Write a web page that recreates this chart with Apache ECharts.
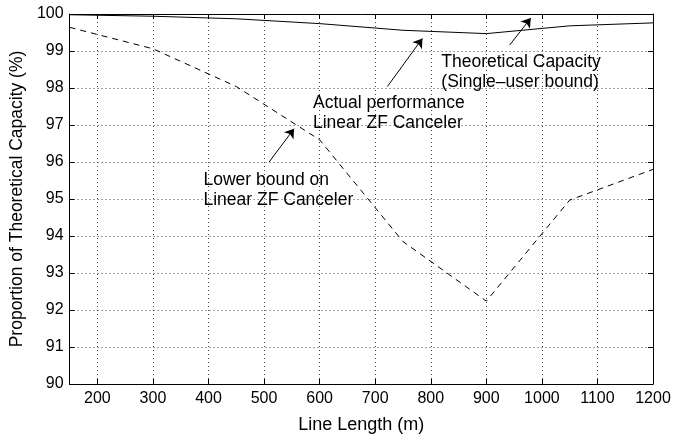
<!DOCTYPE html>
<html>
<head>
<meta charset="utf-8">
<script src="https://cdn.jsdelivr.net/npm/echarts@6/dist/echarts.min.js"></script>
<style>html,body{margin:0;padding:0;background:#fff}#c{width:686px;height:439px}</style>
</head>
<body>
<div id="c"></div>
<script>
const lineLength = [150, 300, 450, 600, 750, 900, 1050, 1200];
const theoretical = [99.98, 99.94, 99.87, 99.74, 99.56, 99.47, 99.68, 99.76];
const lowerBound = [99.64, 99.06, 98.04, 96.6, 93.85, 92.24, 94.97, 95.8];
const xTicks = [200, 300, 400, 500, 600, 700, 800, 900, 1000, 1100, 1200];
const yTicks = [90, 91, 92, 93, 94, 95, 96, 97, 98, 99, 100];

const annotations = [
  {lines: ['Theoretical Capacity', '(Single\u2013user bound)'], at: [819, 98.69]},
  {lines: ['Actual performance', 'Linear ZF Canceler'], at: [588, 97.59]},
  {lines: ['Lower bound on', 'Linear ZF Canceler'], at: [391, 95.51]}
];
const arrows = [
  [[942, 99.16], [980, 99.89]],
  [[722, 98.04], [785, 99.34]],
  [[509, 96.0], [554, 96.9]]
];

const FONT = 'Liberation Sans';
const chart = echarts.init(document.getElementById('c'), null, {renderer: 'canvas'});
const grid = {left: 68, right: 33, top: 14, bottom: 53};
const dotted = {show: true, lineStyle: {color: '#444', type: [1, 3], width: 1}};

function xAx(pos, show) {
  return {
    type: 'value', position: pos, min: 150, max: 1200,
    axisLine: {show: true, onZero: false, lineStyle: {color: '#000', width: 1}},
    axisTick: {show: true, inside: true, length: 5, customValues: xTicks, lineStyle: {color: '#000'}},
    axisLabel: {show: show, customValues: xTicks, formatter: v => String(v), color: '#000', fontFamily: FONT, fontSize: 16, margin: 7},
    splitLine: show ? dotted : {show: false},
    name: show ? 'Line Length (m)' : '', nameLocation: 'middle', nameGap: 32,
    nameTextStyle: {color: '#000', fontFamily: FONT, fontSize: 18}
  };
}
function yAx(pos, show) {
  return {
    type: 'value', position: pos, min: 90, max: 100, interval: 1,
    axisLine: {show: true, onZero: false, lineStyle: {color: '#000', width: 1}},
    axisTick: {show: true, inside: true, length: 5, lineStyle: {color: '#000'}},
    axisLabel: {show: show, color: '#000', fontFamily: FONT, fontSize: 16, margin: 6},
    splitLine: show ? dotted : {show: false},
    name: show ? 'Proportion of Theoretical Capacity (%)' : '', nameLocation: 'middle', nameGap: 40,
    nameTextStyle: {color: '#000', fontFamily: FONT, fontSize: 17.5}
  };
}

chart.setOption({
  animation: false,
  backgroundColor: '#fff',
  grid: grid,
  xAxis: [xAx('bottom', true), xAx('top', false)],
  yAxis: [yAx('left', true), yAx('right', false)],
  series: [
    {
      type: 'line', data: lineLength.map((x, i) => [x, theoretical[i]]),
      symbol: 'none', lineStyle: {color: '#000', width: 1},
      markLine: {
        silent: true, symbol: ['none', 'arrow'], symbolSize: 9,
        label: {show: false},
        lineStyle: {color: '#000', width: 1, type: 'solid'},
        itemStyle: {color: '#000'},
        data: arrows.map(a => [{coord: a[0]}, {coord: a[1]}])
      }
    },
    {
      type: 'line', data: lineLength.map((x, i) => [x, lowerBound[i]]),
      symbol: 'none', lineStyle: {color: '#000', width: 1, type: [6, 5]}
    }
  ]
});

const g = [];
annotations.forEach(a => {
  const p = chart.convertToPixel({xAxisIndex: 0, yAxisIndex: 0}, a.at);
  g.push({
    type: 'text', left: p[0], top: p[1] - 10,
    style: {text: a.lines.join('\n'), fill: '#000', font: '17.5px "' + FONT + '"', lineHeight: 20}
  });
});
chart.setOption({graphic: g});
</script>
</body>
</html>
